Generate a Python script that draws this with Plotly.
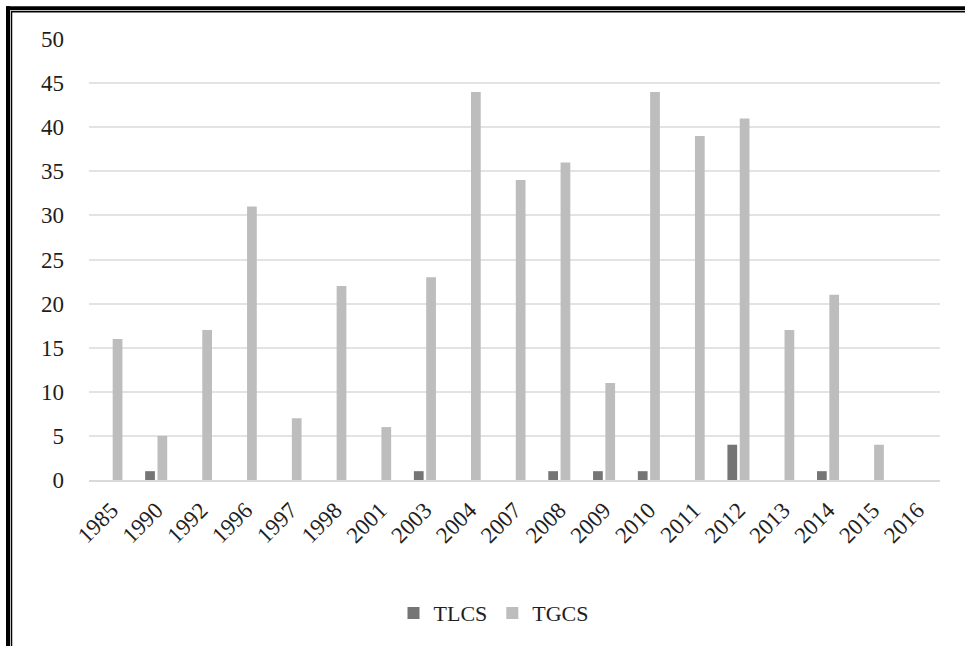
import plotly.graph_objects as go

years = ["1985", "1990", "1992", "1996", "1997", "1998", "2001", "2003", "2004", "2007",
         "2008", "2009", "2010", "2011", "2012", "2013", "2014", "2015", "2016"]
tlcs = [0, 1, 0, 0, 0, 0, 0, 1, 0, 0, 1, 1, 1, 0, 4, 0, 1, 0, 0]
tgcs = [16, 5, 17, 31, 7, 22, 6, 23, 44, 34, 36, 11, 44, 39, 41, 17, 21, 4, 0]
y_ticks = [0, 5, 10, 15, 20, 25, 30, 35, 40, 45, 50]

W, H = 965, 646
L, R, T, B = 89, 25, 39, 163
pw, ph = W - L - R, H - T - B

def px(x):
    return (x - L) / pw

def py(y):
    return (H - B - y) / ph

FONT = "Liberation Serif"
TXT = "#1e1e1e"

fig = go.Figure()
fig.add_trace(go.Bar(name="TLCS", x=years, y=tlcs, marker=dict(color="#757575", line=dict(width=0))))
fig.add_trace(go.Bar(name="TGCS", x=years, y=tgcs, marker=dict(color="#bdbdbd", line=dict(width=0))))

shapes = [
    dict(type="line", xref="paper", yref="paper", x0=px(6), x1=px(W + 5), y0=py(8), y1=py(8),
         line=dict(color="black", width=4)),
    dict(type="line", xref="paper", yref="paper", x0=px(8), x1=px(8), y0=py(6), y1=py(H + 5),
         line=dict(color="black", width=4)),
    dict(type="line", xref="paper", yref="paper", x0=px(11), x1=px(W + 5), y0=py(11.5), y1=py(11.5),
         line=dict(color="black", width=1.5)),
    dict(type="line", xref="paper", yref="paper", x0=px(11.5), x1=px(11.5), y0=py(11), y1=py(H + 5),
         line=dict(color="black", width=1.5)),
]

fig.update_layout(
    width=W, height=H,
    margin=dict(l=L, r=R, t=T, b=B, pad=0),
    paper_bgcolor="white", plot_bgcolor="white",
    barmode="group", bargap=0.45, bargroupgap=0.21,
    font=dict(family=FONT, size=23, color=TXT),
    showlegend=True,
    legend=dict(orientation="h", x=px(494), xanchor="center", y=py(617), yanchor="middle",
                font=dict(family=FONT, size=22, color=TXT), itemwidth=30,
                traceorder="normal"),
    shapes=shapes,
    xaxis=dict(type="category", tickangle=-45, showgrid=False, showline=True,
               linecolor="#d9d9d9", linewidth=1.5, ticks="", tickfont=dict(size=23),
               ticklabelstandoff=6),
    yaxis=dict(range=[0, 50], tickvals=y_ticks, showgrid=True, gridcolor="#e3e3e3", gridwidth=1.5,
               zeroline=False, showline=False, ticks="", ticklabelstandoff=24,
               tickfont=dict(size=23)),
)

fig.write_html("out.html", config={"displayModeBar": False},
               post_script="document.body.style.margin='0';")
